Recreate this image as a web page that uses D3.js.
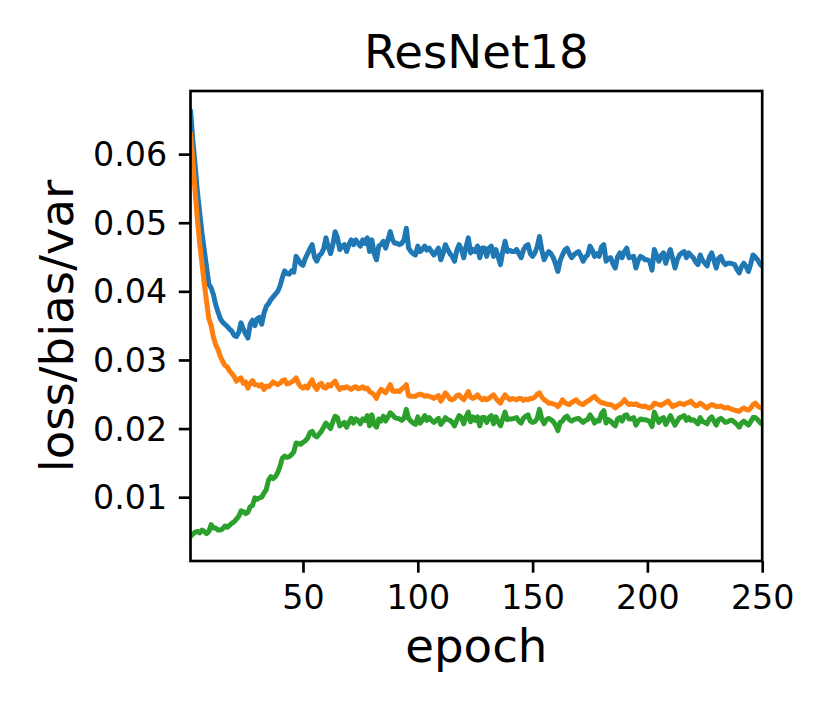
<!DOCTYPE html>
<html>
<head>
<meta charset="utf-8">
<script src="https://cdn.jsdelivr.net/npm/d3@7"></script>
<style>
  html, body { margin: 0; padding: 0; background: #fff; }
  svg { display: block; }
  text { font-family: "DejaVu Sans", sans-serif; fill: #000; }
</style>
</head>
<body>
<svg id="chart" width="830" height="712"></svg>
<script>
// ---- data (per epoch 1..250) ----
const title = "ResNet18";
const xLabel = "epoch";
const yLabel = "loss/bias/var";
const xTicks = [50, 100, 150, 200, 250];
const yTicks = [0.01, 0.02, 0.03, 0.04, 0.05, 0.06];
const xDomain = [1, 250];
const yDomain = [0.0007, 0.0692];

const loss = [
  0.0665,0.0620,0.0585,0.0545,0.0515,0.0485,0.0460,0.0435,0.0410,0.0405,
  0.0395,0.0380,0.0370,0.0360,0.0355,0.0352,0.0349,0.0345,0.0342,0.0336,
  0.0334,0.0340,0.0354,0.0345,0.0338,0.0332,0.0352,0.0358,0.0350,0.0360,
  0.0362,0.0352,0.0368,0.0378,0.0382,0.0388,0.0392,0.0396,0.0400,0.0408,
  0.0420,0.0430,0.0426,0.0425,0.0430,0.0428,0.0451,0.0446,0.0440,0.0438,
  0.0448,0.0455,0.0462,0.0468,0.0450,0.0444,0.0452,0.0455,0.0462,0.0478,
  0.0465,0.0455,0.0468,0.0487,0.0478,0.0461,0.0466,0.0468,0.0458,0.0468,
  0.0475,0.0468,0.0475,0.0470,0.0466,0.0475,0.0470,0.0478,0.0458,0.0475,
  0.0455,0.0446,0.0466,0.0468,0.0473,0.0463,0.0475,0.0487,0.0475,0.0470,
  0.0470,0.0468,0.0470,0.0475,0.0492,0.0463,0.0458,0.0455,0.0453,0.0466,
  0.0458,0.0461,0.0466,0.0460,0.0463,0.0458,0.0453,0.0458,0.0463,0.0446,
  0.0455,0.0468,0.0461,0.0455,0.0451,0.0444,0.0460,0.0468,0.0461,0.0449,
  0.0465,0.0478,0.0456,0.0461,0.0458,0.0466,0.0449,0.0463,0.0463,0.0451,
  0.0463,0.0466,0.0451,0.0461,0.0450,0.0439,0.0458,0.0473,0.0458,0.0460,
  0.0458,0.0458,0.0461,0.0455,0.0449,0.0460,0.0466,0.0468,0.0455,0.0451,
  0.0456,0.0465,0.0480,0.0460,0.0446,0.0453,0.0458,0.0455,0.0449,0.0440,
  0.0429,0.0445,0.0453,0.0460,0.0463,0.0455,0.0449,0.0453,0.0456,0.0458,
  0.0452,0.0444,0.0450,0.0453,0.0466,0.0460,0.0451,0.0455,0.0451,0.0465,
  0.0468,0.0444,0.0448,0.0449,0.0440,0.0434,0.0450,0.0456,0.0449,0.0458,
  0.0463,0.0449,0.0450,0.0451,0.0434,0.0445,0.0451,0.0449,0.0446,0.0446,
  0.0444,0.0431,0.0461,0.0452,0.0444,0.0452,0.0456,0.0441,0.0452,0.0461,
  0.0448,0.0434,0.0446,0.0453,0.0456,0.0458,0.0449,0.0456,0.0452,0.0449,
  0.0443,0.0439,0.0453,0.0445,0.0441,0.0437,0.0450,0.0456,0.0445,0.0434,
  0.0448,0.0451,0.0443,0.0439,0.0441,0.0441,0.0440,0.0439,0.0432,0.0427,
  0.0436,0.0441,0.0436,0.0429,0.0440,0.0453,0.0450,0.0446,0.0440,0.0436
];

const bias = [
  0.0632,0.0590,0.0545,0.0505,0.0470,0.0440,0.0412,0.0385,0.0360,0.0350,
  0.0333,0.0322,0.0315,0.0305,0.0298,0.0292,0.0290,0.0284,0.0280,0.0276,
  0.0269,0.0272,0.0274,0.0266,0.0268,0.0259,0.0266,0.0270,0.0264,0.0264,
  0.0262,0.0264,0.0257,0.0262,0.0261,0.0264,0.0268,0.0266,0.0264,0.0266,
  0.0270,0.0271,0.0265,0.0266,0.0268,0.0270,0.0274,0.0266,0.0261,0.0259,
  0.0262,0.0259,0.0266,0.0271,0.0262,0.0257,0.0264,0.0266,0.0260,0.0259,
  0.0264,0.0262,0.0266,0.0269,0.0262,0.0257,0.0260,0.0259,0.0261,0.0259,
  0.0257,0.0260,0.0261,0.0258,0.0259,0.0261,0.0258,0.0259,0.0254,0.0252,
  0.0249,0.0244,0.0252,0.0257,0.0255,0.0252,0.0258,0.0264,0.0255,0.0254,
  0.0255,0.0254,0.0258,0.0260,0.0264,0.0248,0.0247,0.0247,0.0247,0.0249,
  0.0250,0.0249,0.0247,0.0248,0.0247,0.0246,0.0244,0.0246,0.0248,0.0240,
  0.0245,0.0252,0.0248,0.0243,0.0242,0.0244,0.0248,0.0249,0.0245,0.0242,
  0.0248,0.0254,0.0246,0.0244,0.0246,0.0249,0.0245,0.0242,0.0244,0.0242,
  0.0244,0.0247,0.0249,0.0244,0.0240,0.0237,0.0244,0.0249,0.0245,0.0242,
  0.0244,0.0243,0.0242,0.0244,0.0244,0.0241,0.0243,0.0242,0.0244,0.0244,
  0.0246,0.0250,0.0252,0.0246,0.0242,0.0240,0.0237,0.0237,0.0236,0.0235,
  0.0232,0.0236,0.0242,0.0238,0.0236,0.0235,0.0238,0.0240,0.0242,0.0238,
  0.0236,0.0235,0.0238,0.0240,0.0242,0.0245,0.0247,0.0243,0.0240,0.0238,
  0.0237,0.0236,0.0235,0.0235,0.0233,0.0230,0.0233,0.0235,0.0238,0.0242,
  0.0238,0.0235,0.0236,0.0235,0.0236,0.0234,0.0233,0.0232,0.0233,0.0231,
  0.0230,0.0232,0.0237,0.0236,0.0235,0.0234,0.0236,0.0238,0.0240,0.0236,
  0.0232,0.0234,0.0235,0.0237,0.0236,0.0235,0.0237,0.0238,0.0240,0.0236,
  0.0233,0.0234,0.0237,0.0235,0.0232,0.0230,0.0233,0.0235,0.0234,0.0232,
  0.0232,0.0233,0.0231,0.0230,0.0231,0.0229,0.0228,0.0227,0.0226,0.0225,
  0.0228,0.0230,0.0228,0.0227,0.0230,0.0235,0.0237,0.0233,0.0231,0.0230
];

const variance = [
  0.0043,0.0046,0.0049,0.0050,0.0048,0.0052,0.0050,0.0047,0.0050,0.0060,
  0.0055,0.0055,0.0052,0.0052,0.0054,0.0058,0.0056,0.0059,0.0062,0.0064,
  0.0068,0.0072,0.0080,0.0079,0.0076,0.0078,0.0086,0.0088,0.0099,0.0097,
  0.0099,0.0100,0.0106,0.0111,0.0125,0.0130,0.0127,0.0130,0.0136,0.0145,
  0.0157,0.0160,0.0158,0.0159,0.0162,0.0166,0.0179,0.0178,0.0177,0.0180,
  0.0182,0.0186,0.0194,0.0196,0.0190,0.0188,0.0192,0.0196,0.0202,0.0208,
  0.0204,0.0200,0.0210,0.0218,0.0216,0.0204,0.0206,0.0209,0.0202,0.0209,
  0.0215,0.0208,0.0214,0.0212,0.0207,0.0214,0.0212,0.0219,0.0204,0.0220,
  0.0206,0.0202,0.0214,0.0211,0.0218,0.0211,0.0217,0.0223,0.0220,0.0216,
  0.0215,0.0214,0.0212,0.0215,0.0228,0.0215,0.0211,0.0208,0.0206,0.0217,
  0.0208,0.0212,0.0219,0.0212,0.0216,0.0212,0.0209,0.0212,0.0215,0.0206,
  0.0210,0.0216,0.0213,0.0212,0.0209,0.0204,0.0212,0.0219,0.0216,0.0207,
  0.0217,0.0224,0.0210,0.0217,0.0212,0.0217,0.0204,0.0216,0.0216,0.0209,
  0.0216,0.0219,0.0207,0.0217,0.0210,0.0204,0.0214,0.0224,0.0213,0.0214,
  0.0214,0.0215,0.0216,0.0211,0.0208,0.0215,0.0218,0.0220,0.0211,0.0209,
  0.0210,0.0215,0.0228,0.0214,0.0207,0.0213,0.0215,0.0213,0.0210,0.0205,
  0.0197,0.0209,0.0211,0.0216,0.0218,0.0213,0.0211,0.0213,0.0214,0.0215,
  0.0212,0.0209,0.0212,0.0213,0.0220,0.0215,0.0208,0.0212,0.0211,0.0222,
  0.0226,0.0208,0.0213,0.0211,0.0207,0.0204,0.0214,0.0216,0.0211,0.0219,
  0.0220,0.0214,0.0214,0.0216,0.0205,0.0211,0.0214,0.0213,0.0213,0.0212,
  0.0210,0.0203,0.0224,0.0216,0.0209,0.0214,0.0216,0.0206,0.0212,0.0219,
  0.0212,0.0205,0.0211,0.0216,0.0217,0.0219,0.0212,0.0216,0.0212,0.0213,
  0.0210,0.0207,0.0216,0.0210,0.0209,0.0207,0.0214,0.0217,0.0211,0.0205,
  0.0213,0.0215,0.0212,0.0209,0.0210,0.0212,0.0212,0.0209,0.0206,0.0202,
  0.0208,0.0211,0.0208,0.0205,0.0210,0.0216,0.0216,0.0213,0.0209,0.0206
];

const seriesNames = ["loss", "bias", "var"];
const seriesColors = ["#1f77b4", "#ff7f0e", "#2ca02c"];

// ---- layout ----
const plot = { left: 190.5, right: 762.2, top: 91, bottom: 561 };
const tickLen = 11.7, tickPad = 11.7, spineW = 2.67;
const tickFont = 33.3, labelFont = 46.7;

const svg = d3.select("#chart");
svg.append("rect").attr("width", 830).attr("height", 712).attr("fill", "#fff");

const x = d3.scaleLinear().domain(xDomain).range([plot.left, plot.right]);
const y = d3.scaleLinear().domain(yDomain).range([plot.bottom, plot.top]);

svg.append("defs").append("clipPath").attr("id", "clip")
  .append("rect")
  .attr("x", plot.left).attr("y", plot.top)
  .attr("width", plot.right - plot.left).attr("height", plot.bottom - plot.top);

const line = d3.line().x((d, i) => x(i + 1)).y(d => y(d));
const seriesData = [loss, bias, variance];

const g = svg.append("g").attr("clip-path", "url(#clip)");
seriesData.forEach((vals, k) => {
  g.append("path")
    .datum(vals)
    .attr("d", line)
    .attr("fill", "none")
    .attr("stroke", seriesColors[k])
    .attr("stroke-width", 5)
    .attr("stroke-linejoin", "round")
    .attr("stroke-linecap", "butt")
    .attr("class", "series-" + seriesNames[k]);
});

// axes
const xAxis = d3.axisBottom(x).tickValues(xTicks).tickSize(tickLen).tickPadding(tickPad)
  .tickFormat(d3.format("d"));
const yAxis = d3.axisLeft(y).tickValues(yTicks).tickSize(tickLen).tickPadding(tickPad)
  .tickFormat(d3.format(".2f"));

const gx = svg.append("g").attr("transform", `translate(0,${plot.bottom})`).call(xAxis);
const gy = svg.append("g").attr("transform", `translate(${plot.left},0)`).call(yAxis);

[gx, gy].forEach(a => {
  a.select(".domain").remove();
  a.selectAll(".tick line").attr("stroke", "#000").attr("stroke-width", spineW);
  a.selectAll(".tick text")
    .style("font-family", '"DejaVu Sans", sans-serif')
    .style("font-size", tickFont + "px")
    .attr("fill", "#000");
});
gx.selectAll(".tick text").attr("dy", null).attr("y", tickLen + tickPad)
  .attr("dominant-baseline", "hanging");
gy.selectAll(".tick text").attr("dy", null).attr("dominant-baseline", "central");

// spines
svg.append("rect")
  .attr("x", plot.left).attr("y", plot.top)
  .attr("width", plot.right - plot.left).attr("height", plot.bottom - plot.top)
  .attr("fill", "none").attr("stroke", "#000").attr("stroke-width", spineW);

// title & labels
const cx = (plot.left + plot.right) / 2;
svg.append("text").attr("x", cx).attr("y", 68)
  .attr("text-anchor", "middle").style("font-size", labelFont + "px").text(title);
svg.append("text").attr("x", cx).attr("y", 662)
  .attr("text-anchor", "middle").style("font-size", labelFont + "px").text(xLabel);
svg.append("text")
  .attr("transform", `translate(73,${(plot.top + plot.bottom) / 2}) rotate(-90)`)
  .attr("text-anchor", "middle").style("font-size", labelFont + "px").text(yLabel);
</script>
</body>
</html>
